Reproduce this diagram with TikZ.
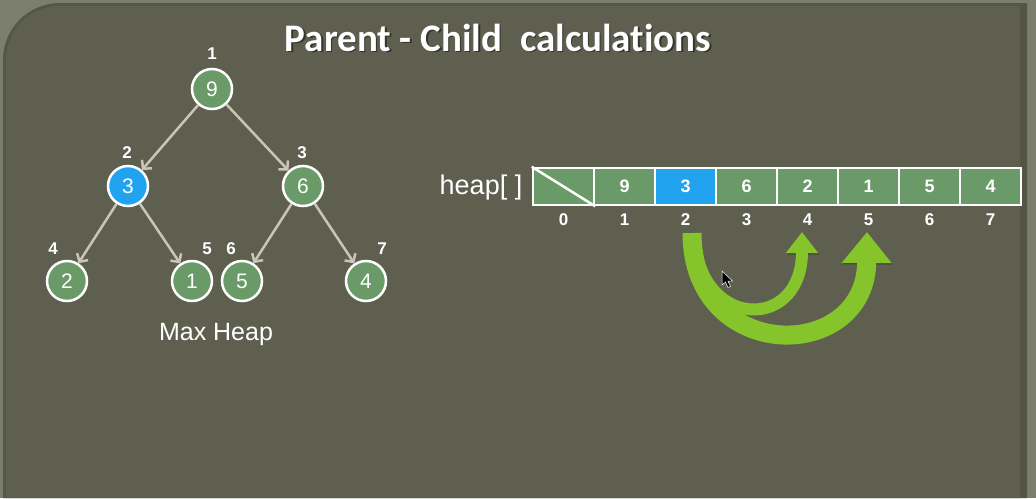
\documentclass[tikz,border=0pt]{standalone}
\usepackage{fontspec}
\setmainfont{Liberation Sans}
\newfontfamily\titlefont[Ligatures=NoCommon]{Carlito}
\usetikzlibrary{arrows.meta,shadows}
\definecolor{outerbg}{HTML}{7B7E6C}
\definecolor{panelbg}{HTML}{5E5F4F}
\definecolor{paneledge}{HTML}{54564A}
\definecolor{nodegreen}{HTML}{6A9A68}
\definecolor{nodeblue}{HTML}{22A3F0}
\definecolor{edgegray}{HTML}{C9C6B9}
\definecolor{arrowgreen}{HTML}{86C42B}
\tikzset{
  hnode/.style={circle, minimum size=40pt, inner sep=0pt, draw=white, line width=2.5pt,
    fill=nodegreen, text=white, font=\fontsize{21}{21}\selectfont,
    drop shadow={opacity=0.35, shadow xshift=1pt, shadow yshift=-1.5pt}},
  bluenode/.style={hnode, fill=nodeblue},
  idx/.style={text=white, inner sep=0pt, font=\bfseries\fontsize{17}{17}\selectfont},
  tedge/.style={draw=edgegray, line width=2.5pt, -{Straight Barb[length=6pt,width=13pt]}},
  cell/.style={draw=white, line width=2.5pt, fill=nodegreen, minimum width=61pt,
    minimum height=37pt, inner sep=0pt, text=white, font=\bfseries\fontsize{18}{18}\selectfont},
  bluecell/.style={cell, fill=nodeblue},
  aidx/.style={text=white, inner sep=0pt, font=\bfseries\fontsize{17}{17}\selectfont},
  bigarrow/.style={draw=arrowgreen, line cap=butt,
    preaction={draw=black, draw opacity=0.22, transform canvas={xshift=1pt,yshift=-1.5pt}}},
  titletext/.style={anchor=base, inner sep=0pt, font=\titlefont\bfseries\fontsize{39}{39}\selectfont},
}
\begin{document}
\begin{tikzpicture}[x=1pt,y=-1pt]
\useasboundingbox (0,0) rectangle (1036,498);
% background
\fill[outerbg] (0,0) rectangle (1036,498);
\fill[paneledge] (3,498) -- (3,60) arc[start angle=180, end angle=270, radius=57]
  -- (1027,3) -- (1027,498) -- cycle;
\fill[panelbg] (6,498) -- (6,60) arc[start angle=180, end angle=270, radius=54]
  -- (1020,6) -- (1020,498) -- cycle;
\fill[panelbg!88!black] (1020,6) rectangle (1026,498);

% title
\node[titletext, text=black, opacity=0.45] at (499.5,52.5) {Parent - Child~~calculat\kern0pt ions};
\node[titletext, text=white] (title) at (498,51) {Parent - Child~~calculat\kern0pt ions};

% tree
\node[hnode] (n1) at (212,89) {9};
\node[bluenode] (n2) at (128,186) {3};
\node[hnode] (n3) at (303,186) {6};
\node[hnode] (n4) at (67,281) {2};
\node[hnode] (n5) at (192,281) {1};
\node[hnode] (n6) at (242,281) {5};
\node[hnode] (n7) at (366,281) {4};
\foreach \a/\b in {n1/n2, n1/n3, n2/n4, n2/n5, n3/n6, n3/n7}
  \draw[tedge] (\a) -- (\b);
\node[idx] (t1) at (212,54) {1};
\node[idx] (t2) at (127,153) {2};
\node[idx] (t3) at (302,153) {3};
\node[idx] (t4) at (53,249) {4};
\node[idx] (t5) at (207,249) {5};
\node[idx] (t6) at (231,249) {6};
\node[idx] (t7) at (382,249) {7};
\node[text=white, font=\fontsize{25}{25}\selectfont, inner sep=0pt] (cap) at (216,334) {Max Heap};

% array
\node[anchor=base, text=white, font=\fontsize{27}{27}\selectfont, inner sep=0pt] (heap) at (481,194) {heap[ ]};
\foreach \i/\v in {0/{},1/9,3/6,4/2,5/1,6/5,7/4}
  \node[cell] (c\i) at ({563.5+61*\i},186.5) {\v};
\node[bluecell] (c2) at ({563.5+61*2},186.5) {3};
\draw[white, line width=2.5pt] (c0.north west) -- (c0.south east);
\foreach \i in {0,...,7}
  \node[aidx] (i\i) at ({563.5+61*\i},220) {\i};

% green arrows
\coordinate (s5) at (692,233);
\coordinate (e5) at (867,232);
\coordinate (s4) at (697,256);
\coordinate (e4) at (802,232);
\draw[bigarrow, line width=19pt, -{Triangle[width=48pt,length=31pt]}]
  (s5) .. controls (692,364) and (866,364) .. (e5);
\draw[bigarrow, line width=12pt, -{Triangle[width=31pt,length=21pt]}]
  (s4) .. controls (714,330) and (802,326) .. (e4);

% mouse cursor
\fill[black, draw=white, line width=0.5pt] (722,271) -- (722,285) -- (725.5,282) -- (728,287.5)
  -- (730.5,286.5) -- (728,281.2) -- (732.5,281) -- cycle;
\end{tikzpicture}
\end{document}
